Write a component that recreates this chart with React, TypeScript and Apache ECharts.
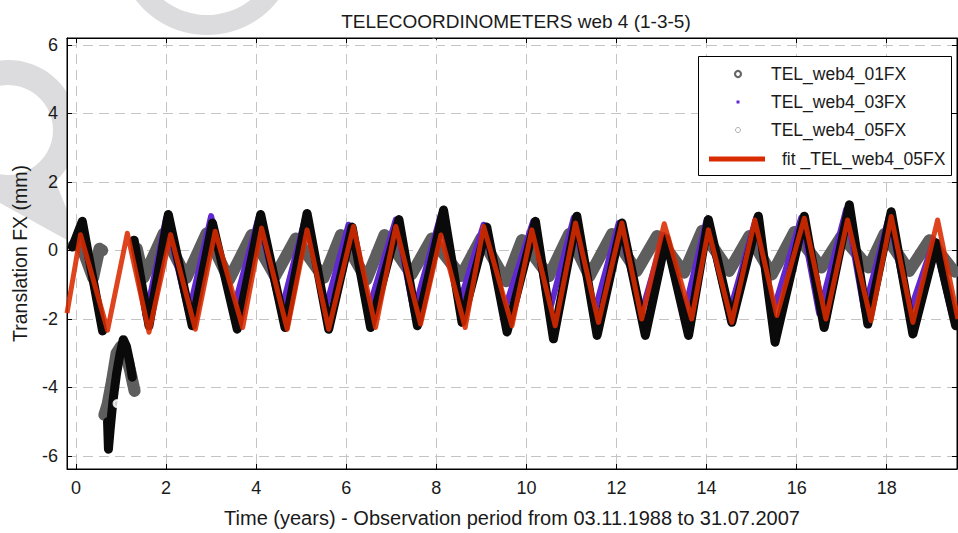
import React, { useEffect, useRef } from "react";
import * as echarts from "echarts";

const chartTitle = "TELECOORDINOMETERS web 4 (1-3-5)";
const xAxisName = "Time (years) - Observation period from 03.11.1988 to 31.07.2007";
const yAxisName = "Translation FX (mm)";
const seriesNames = ["TEL_web4_01FX", "TEL_web4_03FX", "TEL_web4_05FX", "fit _TEL_web4_05FX"];

// TEL_web4_01FX (grey band)
const t01 = [-0.05, 0.1, 0.38, 0.52, 0.58, 0.6, 0.63, 0.7, 0.8, 0.9, 1.0, 1.1, 1.2, 1.3, 1.31, 1.35, 1.5, 1.95, 2.45, 2.9, 3.4, 3.9, 4.42, 4.88, 5.5, 5.88, 6.45, 6.85, 7.45, 7.9, 8.55, 9.0, 9.55, 9.9, 10.5, 10.95, 11.4, 11.9, 12.45, 12.9, 13.5, 13.9, 14.5, 14.95, 15.45, 15.95, 16.55, 17.0, 17.6, 17.95, 18.5, 18.95, 19.5];
const v01 = [0.15, 0.2, -0.8, 0.05, 0.0, null, -4.8, -4.5, -3.8, -3.0, -2.8, -3.0, -3.5, -4.1, null, 0.05, -0.8, 0.5, -0.8, 0.5, -0.85, 0.45, -0.75, 0.35, -0.8, 0.45, -0.85, 0.45, -0.7, 0.35, -0.75, 0.36, -0.9, 0.3, -0.75, 0.48, -0.75, 0.48, -0.6, 0.42, -0.65, 0.57, -0.6, 0.42, -0.7, 0.54, -0.5, 0.42, -0.5, 0.48, -0.6, 0.3, -0.62];
const t01Out = [14.87];
const v01Out = [1.14];

// TEL_web4_03FX (purple)
const t03 = [-0.05, 0.1, 0.52, 0.6, 0.68, 0.72, 0.8, 0.95, 1.05, 1.15, 1.25, 1.27, 1.3, 1.55, 2.0, 2.5, 3.0, 3.5, 4.05, 4.55, 5.08, 5.55, 6.05, 6.5, 7.1, 7.5, 8.1, 8.5, 9.05, 9.5, 10.15, 10.5, 11.05, 11.5, 12.05, 12.55, 13.05, 13.5, 14.0, 14.5, 15.1, 15.45, 16.1, 16.5, 17.1, 17.5, 18.05, 18.5, 19.05, 19.45];
const v03 = [0.1, 0.7, -1.85, null, -5.0, -5.5, -4.3, -3.2, -2.8, -3.0, -3.6, null, 0.2, -1.95, 0.95, -1.85, 1.0, -1.7, 0.95, -1.8, 0.9, -1.65, 0.75, -1.7, 0.9, -1.8, 1.05, -1.6, 0.75, -1.8, 0.85, -1.85, 0.95, -1.85, 0.8, -1.85, 0.45, -1.85, 0.9, -1.85, 0.95, -1.9, 0.95, -1.85, 1.2, -1.75, 1.0, -1.85, 0.3, -1.9];

// TEL_web4_05FX (black)
const t05 = [-0.08, 0.14, 0.59, 0.62, 0.7, 0.72, 0.76, 0.82, 0.9, 0.98, 1.05, 1.12, 1.2, 1.25, 1.26, 1.29, 1.62, 2.05, 2.58, 3.03, 3.58, 4.1, 4.64, 5.13, 5.61, 6.13, 6.54, 7.17, 7.58, 8.16, 8.57, 9.12, 9.57, 10.2, 10.6, 11.12, 11.57, 12.12, 12.64, 13.1, 13.6, 14.04, 14.56, 15.15, 15.52, 16.17, 16.61, 17.17, 17.58, 18.1, 18.58, 19.1, 19.53];
const v05 = [0.1, 0.85, -2.35, null, -5.0, -5.8, -5.2, -4.4, -3.6, -3.0, -2.6, -2.8, -3.3, -3.7, null, 0.3, -2.2, 1.05, -2.2, 0.8, -2.3, 1.05, -2.25, 1.08, -2.3, 0.68, -2.25, 0.9, -2.2, 1.18, -2.1, 0.68, -2.38, 0.85, -2.58, 1.0, -2.48, 0.8, -2.48, 0.35, -2.48, 0.9, -2.1, 1.0, -2.68, 1.0, -2.25, 1.33, -2.15, 1.13, -2.44, 0.22, -2.2];
const t05Out = [7.94, 6.1, 0.72, 0.91, 1.06];
const v05Out = [6.05, 1.0, -6.2, -4.47, -2.35];

// fit _TEL_web4_05FX (red)
const tFit = [-0.2, 0.1, 0.7, 1.14, 1.62, 2.1, 2.65, 3.09, 3.7, 4.12, 4.69, 5.13, 5.61, 6.16, 6.65, 7.1, 7.65, 8.1, 8.64, 9.05, 9.68, 10.12, 10.64, 11.09, 11.6, 12.12, 12.56, 13.06, 13.67, 14.04, 14.56, 15.07, 15.56, 16.17, 16.65, 17.13, 17.65, 18.1, 18.58, 19.13, 19.58];
const vFit = [-1.83, 0.46, -2.33, 0.5, -2.39, 0.46, -2.3, 0.56, -2.25, 0.65, -2.3, 0.6, -2.3, 0.7, -2.25, 0.7, -2.15, 0.45, -2.25, 0.7, -2.2, 0.6, -2.2, 0.8, -2.1, 0.8, -2.0, 0.78, -2.0, 0.6, -2.1, 0.89, -1.9, 0.94, -2.0, 0.89, -2.05, 0.99, -2.1, 0.89, -2.0];

const xMin = -0.2;
const xMax = 19.56;
const yMin = -6.38;
const yMax = 6.2;

const zip = (t: number[], v: (number | null)[]) => t.map((x, i) => [x, v[i]]);

const FONT = "'Liberation Sans', Arial, Helvetica, sans-serif";
const GREY = "#5e5e5e";
const PURPLE = "#6028d0";
const RED = "#d92b00";
const WM = "#dcdcde";
const TXT = "#1a1a1a";

const evenLabel = (v: number) => (Math.abs(v % 2) < 1e-9 ? String(Math.round(v)) : "");

export default function App() {
  const ref = useRef<HTMLDivElement>(null);
  useEffect(() => {
    const chart = echarts.init(ref.current!, null, { renderer: "svg" });
    const splitLine = { show: true, lineStyle: { color: "#c4c4c4", type: [10, 6] as any, width: 1 } };
    const axisLine = { show: true, onZero: false, lineStyle: { color: "#000" } };
    const axisTick = { show: true, inside: true, length: 5, lineStyle: { color: "#000" } };
    const option: any = {
      animation: false,
      backgroundColor: "#fff",
      title: {
        text: chartTitle,
        left: 511,
        textAlign: "center",
        top: 7,
        textStyle: { fontFamily: FONT, fontSize: 19, fontWeight: "normal", color: TXT },
      },
      grid: {
        left: 67,
        top: 38,
        right: 1,
        bottom: 60,
        show: true,
        backgroundColor: "#fff",
        borderColor: "#000",
        borderWidth: 1,
      },
      xAxis: [
        {
          type: "value",
          min: xMin,
          max: xMax,
          splitNumber: 10,
          name: xAxisName,
          nameLocation: "middle",
          nameGap: 39,
          nameTextStyle: { fontFamily: FONT, fontSize: 20, color: TXT },
          axisLine,
          axisTick,
          axisLabel: { fontFamily: FONT, fontSize: 18, color: TXT, margin: 10, showMinLabel: false, showMaxLabel: false, formatter: evenLabel },
          splitLine,
        },
        {
          type: "value",
          position: "top",
          min: xMin,
          max: xMax,
          splitNumber: 10,
          axisLine,
          axisTick,
          axisLabel: { show: false },
          splitLine: { show: false },
        },
      ],
      yAxis: [
        {
          type: "value",
          min: yMin,
          max: yMax,
          splitNumber: 6,
          name: yAxisName,
          nameLocation: "middle",
          nameGap: 37,
          nameRotate: 90,
          nameTextStyle: { fontFamily: FONT, fontSize: 19.5, color: TXT },
          axisLine,
          axisTick,
          axisLabel: { fontFamily: FONT, fontSize: 18, color: TXT, margin: 9, showMinLabel: false, showMaxLabel: false, formatter: evenLabel },
          splitLine,
        },
        {
          type: "value",
          position: "right",
          min: yMin,
          max: yMax,
          splitNumber: 6,
          axisLine,
          axisTick,
          axisLabel: { show: false },
          splitLine: { show: false },
        },
      ],
      series: [
        {
          name: seriesNames[0],
          type: "line",
          data: zip(t01, v01),
          showSymbol: false,
          connectNulls: false,
          lineStyle: { color: GREY, width: 12, join: "round", cap: "round" },
          z: 2,
        },
        {
          name: seriesNames[0],
          type: "scatter",
          data: zip(t01Out, v01Out),
          symbol: "emptyCircle",
          symbolSize: 8,
          itemStyle: { color: "#fff", borderColor: GREY, borderWidth: 2.5 },
          z: 2,
        },
        {
          name: seriesNames[1],
          type: "line",
          data: zip(t03, v03),
          showSymbol: false,
          connectNulls: false,
          lineStyle: { color: PURPLE, width: 6, join: "round" },
          z: 3,
        },
        {
          name: seriesNames[2],
          type: "line",
          data: zip(t05, v05),
          showSymbol: false,
          connectNulls: false,
          lineStyle: { color: "#0a0a0a", width: 9, join: "round", cap: "round" },
          z: 4,
        },
        {
          name: seriesNames[2],
          type: "scatter",
          data: zip(t05Out, v05Out),
          symbol: "emptyCircle",
          symbolSize: 7,
          itemStyle: { color: "#fff", borderColor: "#666", borderWidth: 1 },
          z: 4,
        },
        {
          name: seriesNames[3],
          type: "line",
          data: zip(tFit, vFit),
          showSymbol: false,
          lineStyle: { color: RED, width: 5, opacity: 0.88, join: "round" },
          z: 5,
        },
      ],
      graphic: [
        // watermark (behind plot)
        { type: "ring", z: -10, shape: { cx: 207, cy: -55, r: 90, r0: 70 }, style: { fill: WM } },
        { type: "ring", z: -10, shape: { cx: 8, cy: 130, r: 70, r0: 45 }, style: { fill: WM } },
        { type: "polygon", z: -10, shape: { points: [[15, 175], [50, 168], [67, 210], [67, 240], [0, 203], [0, 190]] }, style: { fill: WM } },
        // legend
        { type: "rect", z: 20, shape: { x: 698.5, y: 56.5, width: 253, height: 119 }, style: { fill: "#fff", stroke: "#000", lineWidth: 1 } },
        { type: "circle", z: 21, shape: { cx: 738, cy: 74, r: 3 }, style: { fill: "#fff", stroke: "#666", lineWidth: 2.2 } },
        { type: "text", z: 21, x: 771, y: 74, style: { text: seriesNames[0], fontFamily: FONT, fontSize: 17.5, fill: TXT, verticalAlign: "middle" } },
        { type: "rect", z: 21, shape: { x: 736.5, y: 100.5, width: 3, height: 3 }, style: { fill: PURPLE } },
        { type: "text", z: 21, x: 771, y: 102, style: { text: seriesNames[1], fontFamily: FONT, fontSize: 17.5, fill: TXT, verticalAlign: "middle" } },
        { type: "circle", z: 21, shape: { cx: 738, cy: 130, r: 2.5 }, style: { fill: "#fff", stroke: "#999", lineWidth: 0.8 } },
        { type: "text", z: 21, x: 771, y: 130, style: { text: seriesNames[2], fontFamily: FONT, fontSize: 17.5, fill: TXT, verticalAlign: "middle" } },
        { type: "line", z: 21, shape: { x1: 709, y1: 159, x2: 765, y2: 159 }, style: { stroke: RED, lineWidth: 5 } },
        { type: "text", z: 21, x: 782, y: 159, style: { text: seriesNames[3], fontFamily: FONT, fontSize: 17.5, fill: TXT, verticalAlign: "middle" } },
      ],
    };
    chart.setOption(option);
    return () => chart.dispose();
  }, []);
  return <div ref={ref} style={{ position: "absolute", left: 0, top: 0, width: 958, height: 533 }} />;
}
